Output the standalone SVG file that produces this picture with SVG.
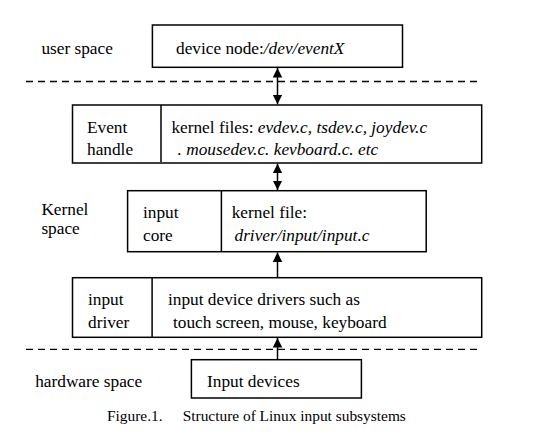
<svg xmlns="http://www.w3.org/2000/svg" width="541" height="441" viewBox="0 0 541 441">
<style>
text{font-family:"Liberation Serif","Times New Roman",serif;font-size:17.3px;fill:#000}
.it{font-style:italic}
.cap{font-size:15.4px}
.box{fill:#fff;stroke:#000;stroke-width:1.5}
.div{stroke:#000;stroke-width:1.5}
.dash{stroke:#000;stroke-width:1.3;stroke-dasharray:7 5;fill:none}
.conn{stroke:#000;stroke-width:1.5;fill:none}
</style>
<defs>
<marker id="ah" viewBox="0 0 10 10" refX="10" refY="5" markerWidth="9.5" markerHeight="11" markerUnits="userSpaceOnUse" orient="auto-start-reverse">
<path d="M0,0 L10,5 L0,10 z" fill="#000"/>
</marker>
</defs>
<rect width="541" height="441" fill="#fff"/>

<g id="layers">
<line class="dash" x1="26" y1="81.5" x2="480" y2="81.5"/>
<line class="dash" x1="26" y1="349.3" x2="480" y2="349.3"/>
<text x="41.4" y="54.3">user space</text>
<text x="41.4" y="215">Kernel</text>
<text x="41.4" y="234">space</text>
<text x="35.2" y="386.5">hardware space</text>
</g>

<g id="device-node">
<rect class="box" x="152.4" y="25" width="250.1" height="42.3"/>
<text x="176" y="54">device node:<tspan class="it">/dev/eventX</tspan></text>
</g>

<g id="event-handle">
<rect class="box" x="72.5" y="105" width="409.2" height="58"/>
<line class="div" x1="161" y1="105" x2="161" y2="162"/>
<text x="87" y="132.5">Event</text>
<text x="87" y="155">handle</text>
<text x="171.4" y="132.5">kernel files: <tspan class="it">evdev.c, tsdev.c, joydev.c</tspan></text>
<text class="it" x="177.6" y="155">. mousedev.c. kevboard.c. etc</text>
</g>

<g id="input-core">
<rect class="box" x="127.6" y="190.7" width="298.6" height="61"/>
<line class="div" x1="221.4" y1="190.7" x2="221.4" y2="251.7"/>
<text x="143" y="218">input</text>
<text x="143" y="240.5">core</text>
<text x="231.7" y="218">kernel file:</text>
<text class="it" x="234.5" y="240.5">driver/input/input.c</text>
</g>

<g id="input-driver">
<rect class="box" x="72.5" y="277.7" width="409.2" height="59.6"/>
<line class="div" x1="152.1" y1="277.7" x2="152.1" y2="337.3"/>
<text x="88" y="305">input</text>
<text x="88" y="328">driver</text>
<text x="168" y="305">input device drivers such as</text>
<text x="173" y="328">touch screen, mouse, keyboard</text>
</g>

<g id="input-devices">
<rect class="box" x="191.4" y="359.7" width="170" height="38.3"/>
<text x="207" y="386.7">Input devices</text>
</g>

<g id="connectors">
<line class="conn" x1="277.5" y1="68" x2="277.5" y2="104.3" marker-start="url(#ah)" marker-end="url(#ah)"/>
<line class="conn" x1="277.5" y1="163.7" x2="277.5" y2="190" marker-start="url(#ah)" marker-end="url(#ah)"/>
<line class="conn" x1="277.5" y1="277.7" x2="277.5" y2="252.4" marker-end="url(#ah)"/>
<line class="conn" x1="277.5" y1="359.7" x2="277.5" y2="338" marker-end="url(#ah)"/>
</g>

<g id="caption">
<text class="cap" x="107" y="421">Figure.1.</text>
<text class="cap" x="182.7" y="421">Structure of Linux input subsystems</text>
</g>
</svg>
